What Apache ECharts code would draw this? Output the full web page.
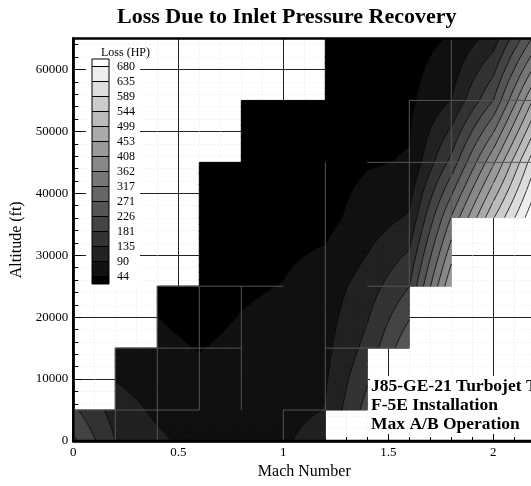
<!DOCTYPE html>
<html><head><meta charset="utf-8">
<script src="https://cdn.jsdelivr.net/npm/echarts@6/dist/echarts.min.js"></script>
<style>html,body{margin:0;padding:0;background:#fff}#c{width:531px;height:486px}</style>
</head><body><div id="c"></div><script>
// ---- data (node grid of the flight envelope) ----
const machNodes = [0, 0.2, 0.4, 0.6, 0.8, 1.0, 1.2, 1.4, 1.6, 1.8, 2.0, 2.2];
const altNodes  = [0, 5000, 15000, 25000, 36089, 45000, 55000, 65000];
// Loss (HP) at each altitude node, one array per Mach node; null = outside envelope
const loss_M00 = [235, 190, null, null, null, null, null, null];
const loss_M02 = [135, 115, 60, null, null, null, null, null];
const loss_M04 = [100, 80, 50, 38, null, null, null, null];
const loss_M06 = [70, 58, 43, 30, 25, 20, null, null];
const loss_M08 = [65, 55, 50, 40, 28, 22, 18, null];
const loss_M10 = [80, 68, 56, 45, 30, 24, 20, null];
const loss_M12 = [125, 92, 78, 65, 30, 25, 20, 15];
const loss_M14 = [null, 200, 150, 112, 65, 40, 30, 22];
const loss_M16 = [null, null, 265, 180, 95, 47, 35, 25];
const loss_M18 = [null, null, null, 450, 320, 195, 90, 48];
const loss_M20 = [null, null, null, null, 540, 400, 226, 110];
const loss_M22 = [null, null, null, null, 725, 630, 470, 285];
const contourLevels = [44, 90, 135, 181, 226, 271, 317, 362, 408, 453, 499, 544, 589, 635, 680];
const xTickLabels = ['0', '0.5', '1', '1.5', '2'];
const yTickLabels = ['0', '10000', '20000', '30000', '40000', '50000', '60000'];
// zone boundary edges seen inside the envelope: [mach1, alt1, mach2, alt2]
const zoneEdges = [
  [0.2, 0, 0.2, 15000], [0.4, 0, 0.4, 25000], [0.6, 5000, 0.6, 25000], [0.8, 5000, 0.8, 25000],
  [1.0, 0, 1.0, 5000], [1.2, 5000, 1.2, 45000], [1.6, 25000, 1.6, 55000], [1.8, 36089, 1.8, 65000],
  [0, 5000, 0.6, 5000], [1.0, 5000, 1.2, 5000], [0.2, 15000, 0.8, 15000], [1.2, 15000, 1.6, 15000],
  [0.4, 25000, 1.0, 25000], [1.4, 25000, 1.6, 25000], [1.4, 45000, 2.2, 45000], [1.6, 55000, 2.2, 55000]
];

const columns = [loss_M00, loss_M02, loss_M04, loss_M06, loss_M08, loss_M10, loss_M12, loss_M14, loss_M16, loss_M18, loss_M20, loss_M22];
const bandColors = ['#000000','#111111','#222222','#333333','#444444','#555555','#666666','#777777',
                    '#888888','#999999','#aaaaaa','#bbbbbb','#cccccc','#dddddd','#eeeeee','#ffffff'];
const SERIF = '"Liberation Serif","Times New Roman",serif';

const cells = [];
for (let i = 0; i < machNodes.length - 1; i++) {
  for (let j = 0; j < altNodes.length - 1; j++) {
    const a = columns[i][j], b = columns[i+1][j], c = columns[i][j+1], d = columns[i+1][j+1];
    if (a != null && b != null && c != null && d != null) {
      cells.push([(machNodes[i] + machNodes[i+1]) / 2, (altNodes[j] + altNodes[j+1]) / 2, i, j]);
    }
  }
}

function bandOf(v) { let k = 0; while (k < contourLevels.length && v >= contourLevels[k]) k++; return k; }
function clip(poly, lvl, above) {
  const out = [];
  for (let a = 0; a < poly.length; a++) {
    const P = poly[a], Q = poly[(a + 1) % poly.length];
    const pin = above ? P.v >= lvl : P.v <= lvl;
    const qin = above ? Q.v >= lvl : Q.v <= lvl;
    if (pin) out.push(P);
    if (pin !== qin) {
      const t = (lvl - P.v) / (Q.v - P.v);
      out.push({ x: P.x + t * (Q.x - P.x), y: P.y + t * (Q.y - P.y), v: lvl });
    }
  }
  return out;
}
const f = n => n.toFixed(2);
function polyPath(poly) {
  let s = 'M' + f(poly[0].x) + ' ' + f(poly[0].y);
  for (let k = 1; k < poly.length; k++) s += 'L' + f(poly[k].x) + ' ' + f(poly[k].y);
  return s + 'Z';
}

function renderCell(params, api) {
  const i = api.value(2), j = api.value(3);
  const m0 = machNodes[i], m1 = machNodes[i+1], h0 = altNodes[j], h1 = altNodes[j+1];
  const v00 = columns[i][j], v10 = columns[i+1][j], v01 = columns[i][j+1], v11 = columns[i+1][j+1];
  const N = 10;
  const pts = [];
  for (let a = 0; a <= N; a++) {
    const row = [];
    for (let b = 0; b <= N; b++) {
      const u = a / N, w = b / N;
      const p = api.coord([m0 + u * (m1 - m0), h0 + w * (h1 - h0)]);
      const v = (1-u)*(1-w)*v00 + u*(1-w)*v10 + (1-u)*w*v01 + u*w*v11;
      row.push({ x: p[0], y: p[1], v: v });
    }
    pts.push(row);
  }
  const bandPaths = bandColors.map(() => '');
  let lines = '';
  for (let a = 0; a < N; a++) {
    for (let b = 0; b < N; b++) {
      const tris = [[pts[a][b], pts[a+1][b], pts[a+1][b+1]], [pts[a][b], pts[a+1][b+1], pts[a][b+1]]];
      for (const tri of tris) {
        const vs = tri.map(p => p.v);
        const vmin = Math.min(...vs), vmax = Math.max(...vs);
        const k0 = bandOf(vmin), k1 = bandOf(vmax);
        if (k0 === k1) { bandPaths[k0] += polyPath(tri); continue; }
        for (let k = k0; k <= k1; k++) {
          let poly = tri;
          if (k > 0) poly = clip(poly, contourLevels[k-1], true);
          if (poly.length >= 3 && k < contourLevels.length) poly = clip(poly, contourLevels[k], false);
          if (poly.length >= 3) bandPaths[k] += polyPath(poly);
        }
        for (const L of contourLevels) {
          if (L <= vmin || L >= vmax) continue;
          const seg = [];
          for (let e = 0; e < 3; e++) {
            const P = tri[e], Q = tri[(e+1)%3];
            if ((P.v < L) !== (Q.v < L)) {
              const t = (L - P.v) / (Q.v - P.v);
              seg.push([P.x + t*(Q.x-P.x), P.y + t*(Q.y-P.y)]);
            }
          }
          if (seg.length === 2) lines += 'M' + f(seg[0][0]) + ' ' + f(seg[0][1]) + 'L' + f(seg[1][0]) + ' ' + f(seg[1][1]);
        }
      }
    }
  }
  const children = [];
  bandPaths.forEach((d, k) => {
    if (d) children.push({ type: 'path', shape: { pathData: d }, style: { fill: bandColors[k], stroke: bandColors[k], lineWidth: 1 } });
  });
  if (lines) children.push({ type: 'path', shape: { pathData: lines }, style: { fill: null, stroke: '#000', lineWidth: 0.8 } });
  return { type: 'group', children: children };
}

function renderEdge(params, api) {
  const p1 = api.coord([api.value(0), api.value(1)]);
  const p2 = api.coord([api.value(2), api.value(3)]);
  return { type: 'line', shape: { x1: p1[0], y1: p1[1], x2: p2[0], y2: p2[1] },
           style: { stroke: '#555555', lineWidth: 1 } };
}

const chart = echarts.init(document.getElementById('c'), null, { renderer: 'canvas', devicePixelRatio: 1 });
chart.setOption({
  animation: false,
  backgroundColor: '#fff',
  title: {
    text: 'Loss Due to Inlet Pressure Recovery', left: 117, top: 6, padding: 0,
    textStyle: { fontFamily: SERIF, fontWeight: 'bold', fontSize: 22, color: '#000' }
  },
  grid: { left: 73.3, right: -4.3, top: 38.5, bottom: 45, containLabel: false, outerBoundsMode: 'none' },
  xAxis: {
    type: 'value', min: 0, max: 2.2, interval: 0.5,
    axisLine: { show: true, onZero: false, lineStyle: { color: '#000', width: 2.5 } },
    axisTick: { show: true, inside: true, length: 8, lineStyle: { color: '#000', width: 1 } },
    minorTick: { show: true, splitNumber: 5, length: 4, lineStyle: { color: '#000', width: 1 } },
    axisLabel: { color: '#000', fontFamily: SERIF, fontSize: 13, margin: 5, showMaxLabel: false,
                 formatter: v => xTickLabels[Math.round(v / 0.5)] },
    splitLine: { show: true, lineStyle: { color: '#222', width: 1 } },
    minorSplitLine: { show: true, lineStyle: { color: '#e2e2e2', width: 1, type: [1, 3] } },
    name: 'Mach Number', nameLocation: 'middle', nameGap: 18,
    nameTextStyle: { color: '#000', fontFamily: SERIF, fontSize: 16 }
  },
  yAxis: {
    type: 'value', min: 0, max: 65000, interval: 10000,
    axisLine: { show: true, onZero: false, lineStyle: { color: '#000', width: 2.5 } },
    axisTick: { show: true, inside: true, length: 8, lineStyle: { color: '#000', width: 1 } },
    minorTick: { show: true, splitNumber: 5, length: 5, lineStyle: { color: '#000', width: 1 } },
    axisLabel: { color: '#000', fontFamily: SERIF, fontSize: 13, margin: 5, showMaxLabel: false,
                 formatter: v => yTickLabels[Math.round(v / 10000)] },
    splitLine: { show: true, lineStyle: { color: '#222', width: 1 } },
    minorSplitLine: { show: true, lineStyle: { color: '#e2e2e2', width: 1, type: [1, 3] } },
    name: 'Altitude (ft)', nameLocation: 'middle', nameGap: 46,
    nameTextStyle: { color: '#000', fontFamily: SERIF, fontSize: 16 }
  },
  series: [{
    type: 'custom', coordinateSystem: 'cartesian2d', data: cells,
    encode: { x: 0, y: 1 }, renderItem: renderCell, clip: true, silent: true, z: 2
  }, {
    type: 'custom', coordinateSystem: 'cartesian2d', data: zoneEdges,
    encode: { x: [0, 2], y: [1, 3] }, renderItem: renderEdge, clip: true, silent: true, z: 3
  }]
});

// frame + legend + annotation, positioned from the grid
const pOrigin = chart.convertToPixel({ gridIndex: 0 }, [0, 0]);
const pTop = chart.convertToPixel({ gridIndex: 0 }, [2.2, 65000]);
const g = [];
g.push({ type: 'polyline', z: 40, silent: true,
  shape: { points: [[pTop[0] + 2, pOrigin[1]], [pOrigin[0], pOrigin[1]], [pOrigin[0], pTop[1]], [pTop[0] + 2, pTop[1]]] },
  style: { stroke: '#000', lineWidth: 2.5, fill: null } });
// legend
const lgX = 92, lgW = 17, lgTop = 59, boxH = 15, half = 7.5;
g.push({ type: 'rect', z: 50, silent: true, shape: { x: 86, y: 45, width: 54, height: 243 }, style: { fill: '#fff' } });
g.push({ type: 'text', z: 51, silent: true, style: { text: 'Loss (HP)', x: 101, y: 47, font: '12px ' + SERIF, fill: '#000' } });
const nL = contourLevels.length;
for (let k = 0; k <= nL; k++) {
  let y0, h;
  if (k === nL) { y0 = lgTop; h = half; }
  else if (k === 0) { y0 = lgTop + half + (nL - 1) * boxH; h = half; }
  else { y0 = lgTop + half + (nL - 1 - k) * boxH; h = boxH; }
  g.push({ type: 'rect', z: 51, silent: true, shape: { x: lgX, y: y0, width: lgW, height: h },
           style: { fill: bandColors[k], stroke: '#000', lineWidth: 1 } });
}
contourLevels.forEach((L, i) => {
  const y = lgTop + half + (nL - 1 - i) * boxH;
  g.push({ type: 'text', z: 52, silent: true, style: { text: String(L), x: 117, y: y, font: '12px ' + SERIF, fill: '#000', verticalAlign: 'middle' } });
});
// annotation
g.push({ type: 'text', z: 60, silent: true,
  style: { text: 'J85-GE-21 Turbojet T\nF-5E Installation\nMax A/B Operation', x: 370, y: 376,
           font: 'bold 17.5px ' + SERIF, fill: '#000', lineHeight: 19, backgroundColor: '#fff', padding: [1, 0, 0, 1] } });
chart.setOption({ graphic: { elements: g } });
</script></body></html>
